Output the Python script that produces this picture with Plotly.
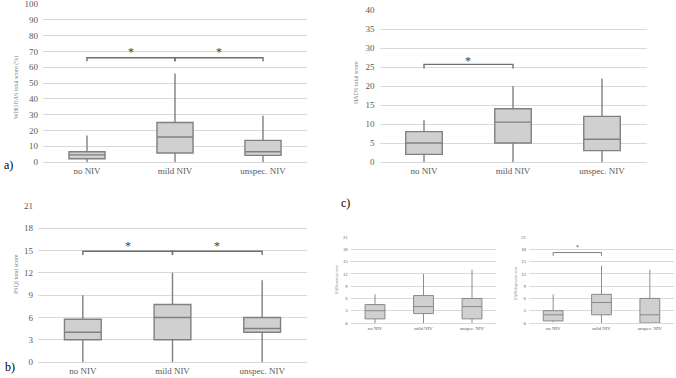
import plotly.graph_objects as go

categories = ["no NIV", "mild NIV", "unspec. NIV"]

# Panel a: WHODAS total score (%)
a_min = [0, 0, 0]
a_q1 = [2.1, 5.7, 4.2]
a_med = [4.5, 15.8, 6.5]
a_q3 = [6.5, 25.0, 13.7]
a_max = [16.8, 56.0, 29.2]
a_sig = [(0, 1, 66), (1, 2, 66)]

# Panel b: PSQI total score
b_min = [0, 0, 0]
b_q1 = [3, 3, 4]
b_med = [4, 6, 4.5]
b_q3 = [5.75, 7.75, 6]
b_max = [9, 12, 11]
b_sig = [(0, 1, 14.9), (1, 2, 14.9)]

# Panel c: HADS total score
c_min = [0, 0, 0]
c_q1 = [2, 5, 3]
c_med = [5, 10.5, 6]
c_q3 = [8, 14, 12]
c_max = [11, 20, 22]
c_sig = [(0, 1, 25.7)]

# Small panel: HADS anxiety score
d_min = [0, 0, 0]
d_q1 = [1, 2.3, 1]
d_med = [3, 4, 4]
d_q3 = [4.5, 6.7, 6]
d_max = [7, 12, 13]
d_sig = []

# Small panel: HADS depression score
e_min = [0.2, 0, 0]
e_q1 = [0.5, 2, 0]
e_med = [2, 5, 2]
e_q3 = [3, 7, 6]
e_max = [7, 14, 13]
e_sig = [(0, 1, 17.2)]

W, H = 676, 378
FILL = "#d0d0d0"
EDGE = "#808080"
GRID = "#d9d9d9"
TXT = "#595959"
FONT = "Liberation Serif, Times New Roman, serif"

panels = [
    dict(d=(a_min, a_q1, a_med, a_q3, a_max), sig=a_sig, xp=(43, 307), yp=(4, 162), yr=100, dt=10,
         fs=9, lw=1.4, title="WHODAS total score (%)", tx=16, ty=88, ts=6, so=5.3, tl=2.2),
    dict(d=(b_min, b_q1, b_med, b_q3, b_max), sig=b_sig, xp=(38, 307), yp=(206, 362), yr=21, dt=3,
         fs=9, lw=1.4, title="PSQI total score", tx=16, ty=274, ts=6, so=1.1, tl=0.5),
    dict(d=(c_min, c_q1, c_med, c_q3, c_max), sig=c_sig, xp=(379.5, 646.5), yp=(10, 162), yr=40, dt=5,
         fs=9, lw=1.4, title="HADS total score", tx=356, ty=83, ts=6, so=1.8, tl=1.1),
    dict(d=(d_min, d_q1, d_med, d_q3, d_max), sig=d_sig, xp=(350.75, 496.25), yp=(237, 323), yr=21, dt=3,
         fs=4.8, lw=0.9, title="HADS anxiety score", tx=337, ty=280, ts=3.5, so=1.7, tl=0.8),
    dict(d=(e_min, e_q1, e_med, e_q3, e_max), sig=e_sig, xp=(529, 674), yp=(237, 323), yr=21, dt=3,
         fs=4.8, lw=0.9, title="HADS depression score", tx=516, ty=283, ts=3.5, so=1.7, tl=0.8),
]

fig = go.Figure()
shapes = []
annotations = []

for i, p in enumerate(panels, start=1):
    xa = "x" if i == 1 else f"x{i}"
    ya = "y" if i == 1 else f"y{i}"
    mn, q1, md, q3, mx = p["d"]
    fig.add_trace(go.Box(
        x=categories, q1=q1, median=md, q3=q3, lowerfence=mn, upperfence=mx,
        xaxis=xa, yaxis=ya, width=0.41, whiskerwidth=0,
        fillcolor=FILL, line=dict(color=EDGE, width=p["lw"]),
        boxpoints=False, showlegend=False, hoverinfo="skip",
    ))
    xl, xr = p["xp"]
    yt, yb = p["yp"]
    key = "" if i == 1 else str(i)
    fig.layout["xaxis" + key] = dict(
        domain=[xl / W, xr / W], anchor=ya, type="category",
        categoryorder="array", categoryarray=categories, range=[-0.5, 2.5],
        showgrid=False, showline=True, linecolor=GRID, linewidth=1,
        ticks="", tickfont=dict(family=FONT, size=p["fs"], color=TXT),
        fixedrange=True, automargin=False, ticklabeloverflow="allow",
    )
    fig.layout["yaxis" + key] = dict(
        domain=[1 - yb / H, 1 - yt / H], anchor=xa, range=[0, p["yr"]],
        dtick=p["dt"], tick0=0, showgrid=True, gridcolor=GRID, gridwidth=1,
        zeroline=False, showline=False, ticks="",
        tickfont=dict(family=FONT, size=p["fs"], color=TXT),
        ticklabelstandoff=4 if p["fs"] > 6 else 2, fixedrange=True, automargin=False,
        ticklabeloverflow="allow",
    )
    annotations.append(dict(
        text=p["title"], textangle=-90, xref="paper", yref="paper",
        x=p["tx"] / W, y=1 - p["ty"] / H, showarrow=False,
        font=dict(family=FONT, size=p["ts"], color="#808080"),
        xanchor="center", yanchor="middle",
    ))
    for (c0, c1, yv) in p["sig"]:
        tl = p["tl"]
        path = f"M {c0},{yv - tl} L {c0},{yv} L {c1},{yv} L {c1},{yv - tl}"
        shapes.append(dict(type="path", xref=xa, yref=ya, path=path,
                           line=dict(color="#6f6f6f", width=p["lw"])))
        big = p["fs"] > 6
        annotations.append(dict(
            text="*", xref=xa, yref=ya, x=(c0 + c1) / 2, y=yv + p["so"],
            showarrow=False, font=dict(family=FONT, size=12 if big else 6, color="#404040"),
            xanchor="center", yanchor="middle", yshift=-3 if big else -1.5,
        ))

for lab, lx, ly in [("a)", 8, 165), ("b)", 10, 367), ("c)", 346, 203)]:
    annotations.append(dict(
        text=lab, xref="paper", yref="paper", x=lx / W, y=1 - ly / H,
        showarrow=False, font=dict(family=FONT, size=12, color="#000000"),
        xanchor="center", yanchor="middle",
    ))

fig.update_layout(
    width=W, height=H, margin=dict(l=0, r=0, t=0, b=0, pad=0),
    paper_bgcolor="white", plot_bgcolor="white",
    shapes=shapes, annotations=annotations,
    font=dict(family=FONT),
)

fig.write_html(
    "out.html",
    config={"displayModeBar": False, "staticPlot": True},
    post_script="document.body.style.margin='0';document.body.style.padding='0';document.body.style.overflow='hidden';",
)
